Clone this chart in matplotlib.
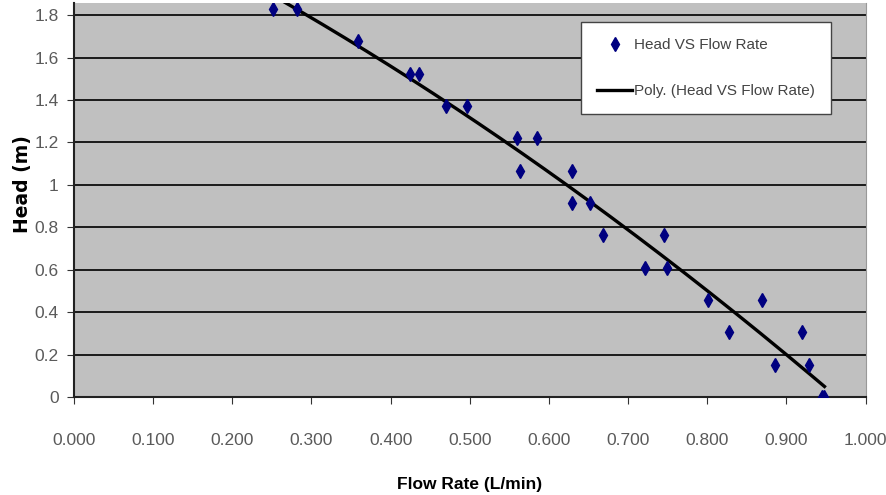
import numpy as np
import matplotlib
matplotlib.use("Agg")
import matplotlib.pyplot as plt

# flow rate (L/min) and head (m)
flow = [0.251, 0.282, 0.359, 0.424, 0.436, 0.470, 0.496, 0.559, 0.585,
        0.564, 0.629, 0.629, 0.652, 0.668, 0.745, 0.721, 0.749, 0.801,
        0.869, 0.828, 0.920, 0.885, 0.928, 0.945, 0.948]
head = [1.829, 1.829, 1.676, 1.524, 1.524, 1.372, 1.372, 1.219, 1.219,
        1.067, 1.067, 0.914, 0.914, 0.762, 0.762, 0.610, 0.610, 0.457,
        0.457, 0.305, 0.305, 0.152, 0.152, 0.0, 0.0]
xticks = [0.0, 0.1, 0.2, 0.3, 0.4, 0.5, 0.6, 0.7, 0.8, 0.9, 1.0]
xtick_labels = ["0.000", "0.100", "0.200", "0.300", "0.400", "0.500",
                "0.600", "0.700", "0.800", "0.900", "1.000"]
yticks = [0, 0.2, 0.4, 0.6, 0.8, 1.0, 1.2, 1.4, 1.6, 1.8]
ytick_labels = ["0", "0.2", "0.4", "0.6", "0.8", "1", "1.2", "1.4", "1.6", "1.8"]

plt.rcParams["font.family"] = ["Liberation Sans", "DejaVu Sans"]

fig = plt.figure(figsize=(8.86, 4.95), dpi=100)
ax = fig.add_axes([0.0835, 0.198, 0.8935, 0.796])
ax.set_facecolor("#C0C0C0")

# 2nd order poly trendline like Excel
coef = np.polyfit(flow, head, 2)
xs = np.linspace(min(flow), max(flow), 200)
ax.plot(xs, np.polyval(coef, xs), color="black", lw=2.4, zorder=3,
        label="Poly. (Head VS Flow Rate)")
ax.plot(flow, head, linestyle="none", marker="d", color="#000080", ms=7.5,
        zorder=4, label="Head VS Flow Rate")

ax.set_xlim(0, 1.0)
ax.set_ylim(0, 1.857)
ax.set_xticks(xticks)
ax.set_xticklabels(xtick_labels)
ax.set_yticks(yticks)
ax.set_yticklabels(ytick_labels)
ax.grid(axis="y", color="#1a1a1a", lw=1.4)
ax.set_axisbelow(True)
ax.tick_params(axis="both", labelsize=12.5, colors="#333333", labelcolor="#5a5a5a",
               direction="out", length=5)
ax.tick_params(axis="x", pad=21)
ax.tick_params(axis="y", pad=6)
ax.spines["top"].set_visible(False)
ax.spines["right"].set_color("#999999")
ax.spines["left"].set_color("#222222")
ax.spines["bottom"].set_color("#222222")
ax.spines["left"].set_linewidth(1.5)
ax.spines["bottom"].set_linewidth(1.5)

ax.set_xlabel("Flow Rate (L/min)", fontsize=12.5, fontweight="bold", labelpad=21)
ax.set_ylabel("Head (m)", fontsize=13.5, fontweight="bold",
              family=["DejaVu Sans"])
ax.yaxis.set_label_coords(-0.053, 0.54)

h, l = ax.get_legend_handles_labels()
leg = ax.legend(h[::-1], l[::-1], loc="upper right", bbox_to_anchor=(0.956, 0.952),
                fontsize=11, frameon=True, fancybox=False, labelspacing=2.1,
                handlelength=2.3, handletextpad=0.1, borderpad=1.05,
                borderaxespad=0)
leg.get_frame().set_edgecolor("#444444")
leg.get_frame().set_facecolor("white")
leg.get_frame().set_alpha(1)
for t in leg.get_texts():
    t.set_color("#444444")

fig.savefig("out.png", dpi=100)
